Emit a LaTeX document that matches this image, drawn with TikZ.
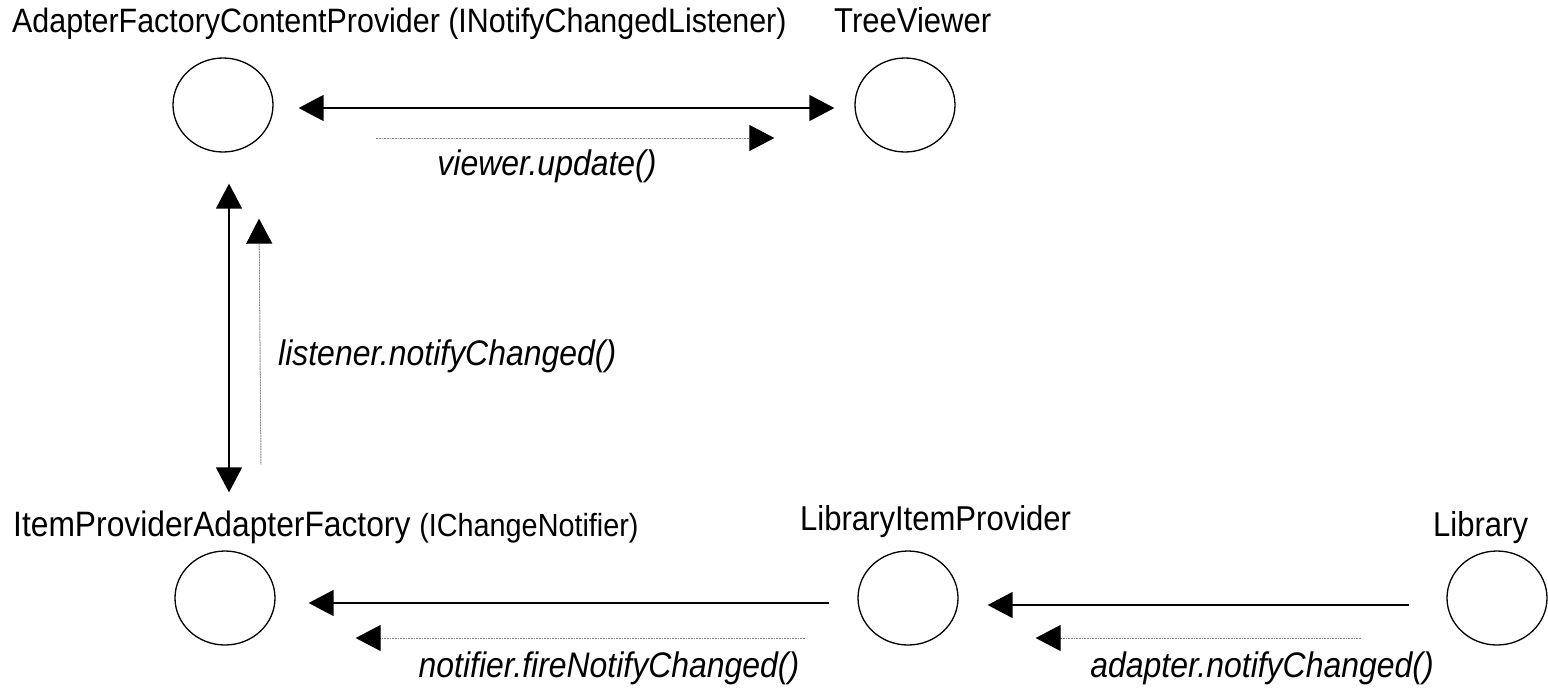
\documentclass[tikz,border=0pt]{standalone}
\usepackage{fontspec}
\setmainfont{Liberation Sans}
\newfontfamily\labfont[FakeStretch=0.9]{Liberation Sans}
\usetikzlibrary{arrows.meta, shapes.geometric}

\tikzset{
  actor/.style={draw, ellipse, line width=1.3pt, minimum width=100pt, minimum height=94pt, inner sep=0pt},
  actorlabel/.style={anchor=base west, inner sep=0pt, font=\labfont\fontsize{34.5}{38}\selectfont},
  calllabel/.style={anchor=base, inner sep=0pt, font=\labfont\itshape\fontsize{35.5}{38}\selectfont},
  link/.style={line width=1.6pt},
  msg/.style={line width=1pt, gray, dash pattern=on 1pt off 0.6pt},
  head/.style={-{Triangle[length=25pt, width=26pt, color=black]}},
  heads/.style={{Triangle[length=25pt, width=26pt]}-{Triangle[length=25pt, width=26pt]}},
}

\begin{document}
\begin{tikzpicture}[x=1pt, y=-1pt]
  \useasboundingbox[fill=white] (0,0) rectangle (1548,689);

  % participants
  \node[actor] (afcp) at (223,105) {};
  \node[actor] (tv)   at (905,105) {};
  \node[actor] (ipaf) at (225,598) {};
  \node[actor] (lip)  at (908,598) {};
  \node[actor] (lib)  at (1497,598) {};

  % participant names
  \node[actorlabel, font=\labfont\fontsize{33.8}{38}\selectfont] (afcpname) at (12,32)
    {AdapterFactoryContentProvider (INotifyChangedListener)};
  \node[actorlabel] (tvname)   at (834,32) {TreeViewer};
  \node[actorlabel, font=\labfont\fontsize{35.3}{38}\selectfont] (ipafname) at (13,536)
    {ItemProviderAdapterFactory {\fontsize{32}{34}\selectfont (IChangeNotifier)}};
  \node[actorlabel] (lipname)  at (800,530) {LibraryItemProvider};
  \node[actorlabel] (libname)  at (1433,536) {Library};

  % associations
  \draw[link, heads] ([shift={(25,3)}]afcp.east) -- ([shift={(-20,3)}]tv.west);
  \draw[link, heads] ([shift={(6,31)}]afcp.south) -- ([shift={(4,-58)}]ipaf.north);
  \draw[link, head]  ([shift={(-28,5)}]lip.west) -- ([shift={(33,5)}]ipaf.east);
  \draw[link, head]  ([shift={(-37,7)}]lib.west) -- ([shift={(29,7)}]lip.east);

  % notification messages
  \draw[msg, head] ([shift={(102,33)}]afcp.east) -- ([shift={(-80,33)}]tv.west);
  \draw[msg, head] ([shift={(36,-86)}]ipaf.north) -- ([shift={(36,66)}]afcp.south);
  \draw[msg, head] ([shift={(-52,40)}]lip.west) -- ([shift={(80,40)}]ipaf.east);
  \draw[msg, head] ([shift={(-85,40)}]lib.west) -- ([shift={(77,40)}]lip.east);

  % message labels
  \node[calllabel] (l1) at (547,175) {viewer.update()};
  \node[calllabel, anchor=base west] (l2) at (278,365) {listener.notifyChanged()};
  \node[calllabel] (l3) at (609,677) {notifier.fireNotifyChanged()};
  \node[calllabel] (l4) at (1262,677) {adapter.notifyChanged()};
\end{tikzpicture}
\end{document}
